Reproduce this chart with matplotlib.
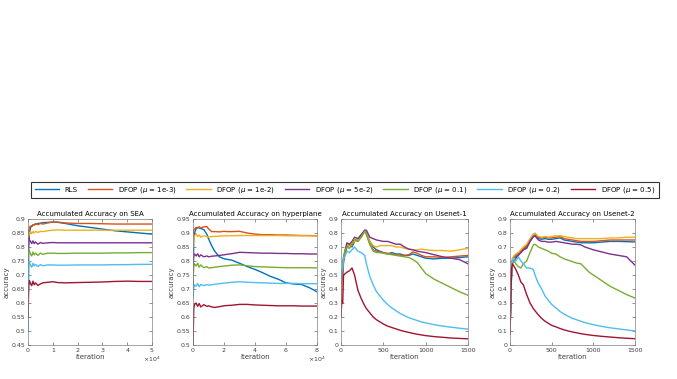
import matplotlib
matplotlib.use("Agg")
import matplotlib.pyplot as plt

# MATLAB default colour order
colores = ['#0072BD', '#D95319', '#EDB120', '#7E2F8E', '#77AC30', '#4DBEEE', '#A2142F']
nombres = ['RLS', r'DFOP ($\mu$ = 1e-3)', r'DFOP ($\mu$ = 1e-2)', r'DFOP ($\mu$ = 5e-2)',
           r'DFOP ($\mu$ = 0.1)', r'DFOP ($\mu$ = 0.2)', r'DFOP ($\mu$ = 0.5)']

#--------------------------------------------------------------------------------------------------------------------#
# SEA
sea_x = [0, 300, 600, 1000, 1500, 2000, 2500, 3000, 4000, 5000, 6000, 8000, 10000, 12000, 15000,
         20000, 25000, 30000, 35000, 40000, 45000, 50000]
sea_rls = [0.50, 0.80, 0.85, 0.87, 0.875, 0.878, 0.880, 0.882, 0.884, 0.885, 0.887, 0.888, 0.889, 0.888, 0.884,
           0.876, 0.870, 0.864, 0.858, 0.854, 0.850, 0.846]
sea_1e3 = [0.80, 0.86, 0.87, 0.875, 0.872, 0.880, 0.878, 0.883, 0.880, 0.884, 0.882, 0.886, 0.889, 0.889, 0.886,
           0.884, 0.884, 0.883, 0.882, 0.882, 0.882, 0.882]
sea_1e2 = [0.80, 0.84, 0.85, 0.855, 0.848, 0.855, 0.850, 0.856, 0.852, 0.856, 0.855, 0.858, 0.860, 0.861, 0.860,
           0.860, 0.860, 0.860, 0.860, 0.860, 0.860, 0.860]
sea_5e2 = [0.78, 0.835, 0.825, 0.82, 0.812, 0.822, 0.812, 0.818, 0.810, 0.816, 0.813, 0.815, 0.816, 0.815, 0.815,
           0.815, 0.815, 0.815, 0.815, 0.815, 0.815, 0.815]
sea_01 = [0.76, 0.79, 0.785, 0.775, 0.768, 0.782, 0.772, 0.778, 0.770, 0.778, 0.774, 0.778, 0.778, 0.777, 0.777,
          0.778, 0.778, 0.778, 0.779, 0.779, 0.780, 0.780]
sea_02 = [0.50, 0.75, 0.745, 0.735, 0.728, 0.742, 0.732, 0.738, 0.730, 0.737, 0.733, 0.736, 0.736, 0.735, 0.735,
          0.736, 0.736, 0.736, 0.737, 0.737, 0.738, 0.738]
sea_05 = [0.55, 0.66, 0.68, 0.67, 0.662, 0.678, 0.665, 0.672, 0.663, 0.668, 0.672, 0.674, 0.676, 0.673, 0.672,
          0.673, 0.674, 0.675, 0.677, 0.678, 0.677, 0.677]

#--------------------------------------------------------------------------------------------------------------------#
# hyperplane
hyp_x = [0, 500, 1000, 2000, 3000, 4000, 5000, 7000, 9000, 10000, 12000, 14000, 17000, 20000, 22000, 25000,
         30000, 35000, 40000, 45000, 50000, 55000, 60000, 65000, 70000, 75000, 80000]
hyp_rls = [0.70, 0.88, 0.90, 0.915, 0.92, 0.918, 0.916, 0.912, 0.895, 0.88, 0.855, 0.835, 0.815, 0.808, 0.806, 0.803,
           0.792, 0.780, 0.770, 0.758, 0.745, 0.735, 0.722, 0.718, 0.716, 0.705, 0.690]
hyp_1e3 = [0.85, 0.91, 0.915, 0.92, 0.918, 0.922, 0.918, 0.922, 0.923, 0.915, 0.905, 0.905, 0.904, 0.906, 0.905, 0.905,
           0.906, 0.900, 0.896, 0.894, 0.894, 0.893, 0.893, 0.892, 0.891, 0.891, 0.890]
hyp_1e2 = [0.85, 0.885, 0.89, 0.895, 0.887, 0.893, 0.885, 0.890, 0.887, 0.886, 0.887, 0.888, 0.889, 0.890, 0.890, 0.890,
           0.891, 0.891, 0.891, 0.891, 0.891, 0.891, 0.890, 0.890, 0.890, 0.890, 0.889]
hyp_5e2 = [0.78, 0.82, 0.825, 0.818, 0.826, 0.815, 0.822, 0.815, 0.818, 0.815, 0.817, 0.818, 0.820, 0.822, 0.824, 0.826,
           0.831, 0.830, 0.829, 0.828, 0.828, 0.827, 0.827, 0.826, 0.826, 0.825, 0.825]
hyp_01 = [0.73, 0.78, 0.79, 0.782, 0.792, 0.778, 0.786, 0.776, 0.780, 0.775, 0.776, 0.778, 0.780, 0.782, 0.783, 0.785,
          0.786, 0.783, 0.780, 0.779, 0.778, 0.777, 0.776, 0.776, 0.776, 0.776, 0.775]
hyp_02 = [0.67, 0.705, 0.715, 0.710, 0.720, 0.708, 0.716, 0.712, 0.716, 0.714, 0.715, 0.717, 0.719, 0.721, 0.722, 0.724,
          0.726, 0.724, 0.723, 0.722, 0.721, 0.720, 0.720, 0.720, 0.719, 0.719, 0.719]
hyp_05 = [0.50, 0.63, 0.645, 0.650, 0.638, 0.648, 0.636, 0.644, 0.638, 0.640, 0.636, 0.634, 0.637, 0.640, 0.641, 0.642,
          0.645, 0.645, 0.643, 0.642, 0.641, 0.640, 0.640, 0.640, 0.639, 0.639, 0.639]

#--------------------------------------------------------------------------------------------------------------------#
# Usenet-1
us1_x = [0, 10, 20, 30, 50, 70, 100, 130, 160, 200, 240, 280, 300, 340, 380, 420, 460, 500, 550, 600, 650, 700,
         750, 800, 850, 900, 950, 1000, 1100, 1200, 1300, 1400, 1500]
us1_rls = [0.44, 0.52, 0.48, 0.60, 0.66, 0.70, 0.72, 0.70, 0.74, 0.75, 0.78, 0.82, 0.80, 0.74, 0.70, 0.68, 0.67, 0.66,
           0.65, 0.66, 0.65, 0.65, 0.64, 0.64, 0.65, 0.64, 0.63, 0.62, 0.615, 0.62, 0.62, 0.625, 0.63]
us1_1e3 = [0.20, 0.45, 0.50, 0.60, 0.65, 0.70, 0.71, 0.71, 0.75, 0.74, 0.78, 0.815, 0.79, 0.72, 0.68, 0.67, 0.665, 0.66,
           0.655, 0.65, 0.645, 0.64, 0.64, 0.645, 0.665, 0.655, 0.64, 0.63, 0.63, 0.625, 0.63, 0.635, 0.64]
us1_1e2 = [0.40, 0.50, 0.55, 0.62, 0.68, 0.72, 0.70, 0.73, 0.74, 0.75, 0.77, 0.81, 0.80, 0.74, 0.71, 0.70, 0.71, 0.71,
           0.71, 0.71, 0.70, 0.70, 0.69, 0.685, 0.68, 0.68, 0.685, 0.68, 0.675, 0.675, 0.67, 0.68, 0.69]
us1_5e2 = [0.44, 0.50, 0.55, 0.62, 0.68, 0.73, 0.72, 0.74, 0.77, 0.76, 0.79, 0.82, 0.82, 0.77, 0.76, 0.75, 0.745, 0.74,
           0.74, 0.73, 0.72, 0.72, 0.70, 0.685, 0.68, 0.67, 0.665, 0.66, 0.645, 0.63, 0.62, 0.61, 0.58]
us1_01 = [0.45, 0.52, 0.56, 0.63, 0.68, 0.70, 0.69, 0.72, 0.76, 0.74, 0.77, 0.815, 0.79, 0.72, 0.67, 0.66, 0.66, 0.655,
          0.65, 0.645, 0.64, 0.635, 0.63, 0.625, 0.61, 0.59, 0.55, 0.51, 0.47, 0.44, 0.41, 0.38, 0.355]
us1_02 = [0.45, 0.53, 0.55, 0.62, 0.64, 0.67, 0.66, 0.68, 0.70, 0.67, 0.66, 0.64, 0.58, 0.49, 0.43, 0.38, 0.35, 0.32,
          0.29, 0.265, 0.245, 0.225, 0.21, 0.195, 0.185, 0.175, 0.165, 0.158, 0.145, 0.135, 0.127, 0.12, 0.113]
us1_05 = [0.20, 0.32, 0.30, 0.50, 0.51, 0.52, 0.53, 0.55, 0.50, 0.39, 0.33, 0.28, 0.26, 0.23, 0.20, 0.18, 0.165, 0.15,
          0.135, 0.125, 0.115, 0.105, 0.097, 0.09, 0.083, 0.077, 0.072, 0.067, 0.060, 0.055, 0.050, 0.047, 0.044]

#--------------------------------------------------------------------------------------------------------------------#
# Usenet-2
us2_x = [0, 10, 20, 30, 50, 70, 100, 130, 160, 200, 240, 280, 300, 340, 380, 420, 460, 500, 550, 600, 650, 700,
         750, 800, 850, 900, 950, 1000, 1100, 1200, 1300, 1400, 1500]
us2_rls = [0.08, 0.30, 0.55, 0.60, 0.62, 0.63, 0.65, 0.66, 0.68, 0.70, 0.74, 0.775, 0.78, 0.76, 0.755, 0.76, 0.755,
           0.755, 0.76, 0.765, 0.75, 0.745, 0.74, 0.735, 0.73, 0.73, 0.73, 0.73, 0.735, 0.74, 0.74, 0.738, 0.736]
us2_1e3 = [0.08, 0.35, 0.55, 0.62, 0.63, 0.64, 0.66, 0.67, 0.69, 0.71, 0.75, 0.79, 0.795, 0.77, 0.765, 0.77, 0.765,
           0.765, 0.77, 0.775, 0.76, 0.755, 0.75, 0.745, 0.74, 0.74, 0.74, 0.74, 0.745, 0.75, 0.75, 0.75, 0.75]
us2_1e2 = [0.08, 0.35, 0.56, 0.62, 0.64, 0.65, 0.66, 0.68, 0.70, 0.72, 0.76, 0.79, 0.80, 0.775, 0.77, 0.775, 0.77,
           0.775, 0.78, 0.78, 0.775, 0.77, 0.765, 0.76, 0.76, 0.76, 0.76, 0.76, 0.76, 0.765, 0.765, 0.77, 0.77]
us2_5e2 = [0.08, 0.35, 0.55, 0.60, 0.60, 0.62, 0.64, 0.66, 0.68, 0.69, 0.74, 0.775, 0.78, 0.75, 0.74, 0.74, 0.735,
           0.735, 0.74, 0.735, 0.73, 0.725, 0.72, 0.72, 0.715, 0.70, 0.69, 0.68, 0.665, 0.65, 0.64, 0.63, 0.57]
us2_01 = [0.08, 0.35, 0.54, 0.58, 0.60, 0.58, 0.56, 0.55, 0.58, 0.60, 0.66, 0.715, 0.72, 0.70, 0.69, 0.68, 0.67,
          0.655, 0.65, 0.63, 0.615, 0.605, 0.595, 0.585, 0.58, 0.55, 0.52, 0.50, 0.46, 0.42, 0.39, 0.36, 0.335]
us2_02 = [0.08, 0.40, 0.57, 0.60, 0.62, 0.60, 0.63, 0.60, 0.58, 0.55, 0.55, 0.54, 0.50, 0.44, 0.40, 0.35, 0.32, 0.29,
          0.265, 0.24, 0.22, 0.205, 0.19, 0.18, 0.17, 0.16, 0.152, 0.145, 0.133, 0.123, 0.115, 0.108, 0.100]
us2_05 = [0.08, 0.35, 0.55, 0.58, 0.56, 0.54, 0.50, 0.45, 0.43, 0.36, 0.30, 0.26, 0.245, 0.215, 0.19, 0.17, 0.155,
          0.14, 0.13, 0.118, 0.108, 0.10, 0.093, 0.087, 0.081, 0.076, 0.072, 0.068, 0.062, 0.057, 0.052, 0.048, 0.045]

#--------------------------------------------------------------------------------------------------------------------#

paneles = [
    ('Accumulated Accuracy on SEA', sea_x,
     [sea_rls, sea_1e3, sea_1e2, sea_5e2, sea_01, sea_02, sea_05], (0, 50000), (0.45, 0.9),
     [0, 10000, 20000, 30000, 40000, 50000], [0.45 + 0.05 * i for i in range(10)]),
    ('Accumulated Accuracy on hyperplane', hyp_x,
     [hyp_rls, hyp_1e3, hyp_1e2, hyp_5e2, hyp_01, hyp_02, hyp_05], (0, 80000), (0.5, 0.95),
     [0, 20000, 40000, 60000, 80000], [0.5 + 0.05 * i for i in range(10)]),
    ('Accumulated Accuracy on Usenet-1', us1_x,
     [us1_rls, us1_1e3, us1_1e2, us1_5e2, us1_01, us1_02, us1_05], (0, 1500), (0, 0.9),
     [0, 500, 1000, 1500], [0.1 * i for i in range(10)]),
    ('Accumulated Accuracy on Usenet-2', us2_x,
     [us2_rls, us2_1e3, us2_1e2, us2_5e2, us2_01, us2_02, us2_05], (0, 1500), (0, 0.9),
     [0, 500, 1000, 1500], [0.1 * i for i in range(10)]),
]

posiciones = [(28, 124), (193, 124), (341, 127), (510, 125)]

fig = plt.figure(figsize=(6.77, 3.79), dpi=100)
W, H = 677.0, 379.0
lineas = []

for (titulo, x, series, xl, yl, xt, yt), (izq, ancho) in zip(paneles, posiciones):
    ax = fig.add_axes([izq / W, (H - 345) / H, ancho / W, 126 / H])
    for serie, color in zip(series, colores):
        l, = ax.plot(x, serie, color=color, linewidth=1.0)
        if len(lineas) < 7:
            lineas.append(l)
    ax.set_xlim(*xl)
    ax.set_ylim(*yl)
    ax.set_xticks(xt)
    ax.set_yticks(yt)
    ax.set_yticklabels(['%g' % round(v, 2) for v in yt])
    if xl[1] > 10000:
        ax.set_xticklabels(['%d' % (v / 10000) for v in xt])
        ax.text(1.0, -0.08, r'$\times10^4$', transform=ax.transAxes, fontsize=4.5,
                ha='center', va='top', color='#404040')
    ax.set_title(titulo, fontsize=5, pad=2)
    ax.set_xlabel('iteration', fontsize=5, labelpad=1, color='#404040')
    ax.set_ylabel('accuracy', fontsize=5, labelpad=1, color='#404040')
    ax.tick_params(direction='in', length=2, width=0.4, labelsize=4.5, pad=2,
                   top=True, right=True, colors='#404040')
    for s in ax.spines.values():
        s.set_linewidth(0.5)
        s.set_color('#808080')

leg = fig.legend(lineas, nombres, loc='center', ncol=7, fontsize=5,
                 bbox_to_anchor=(28 / W, (H - 198) / H, 634 / W, 16 / H), mode='expand',
                 frameon=True, fancybox=False, edgecolor='black', handlelength=3.5,
                 borderpad=0.5, columnspacing=1.5)
leg.get_frame().set_linewidth(0.8)

fig.savefig('out.png', dpi=100)
